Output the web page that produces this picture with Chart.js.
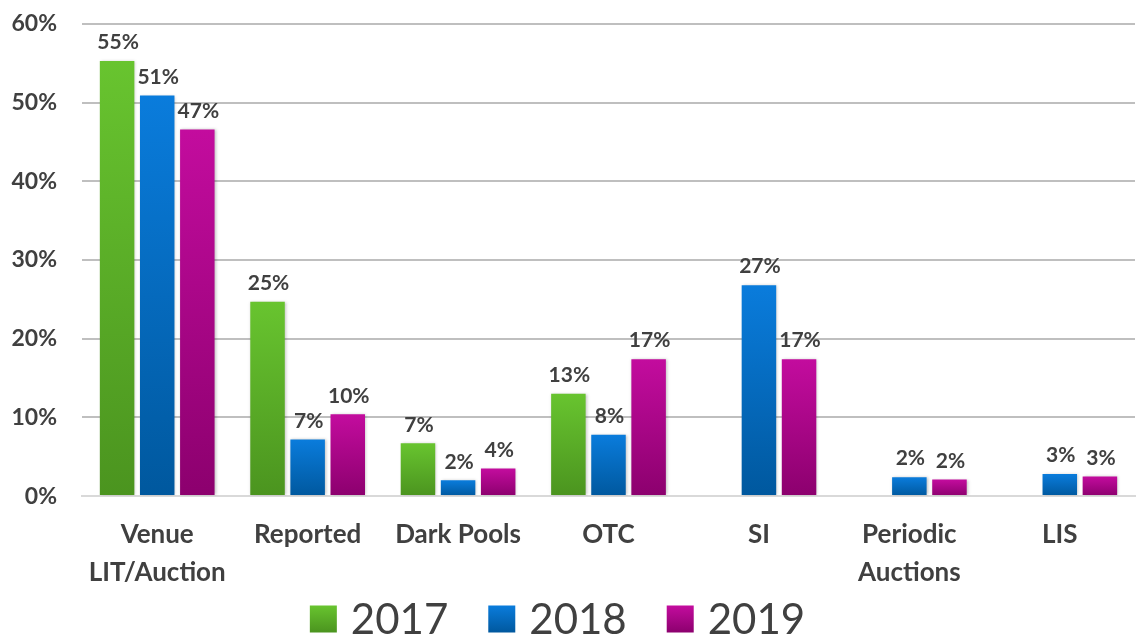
<!DOCTYPE html>
<html><head><meta charset="utf-8">
<script src="https://cdn.jsdelivr.net/npm/chart.js@4.4.0/dist/chart.umd.min.js"></script>
<style>html,body{margin:0;padding:0;background:#fff;}#wrap{width:1137px;height:637px;}</style>
</head><body><div id="wrap"><canvas id="c" width="1137" height="637"></canvas></div>
<script>
const categories = [["Venue","LIT/Auction"], "Reported", "Dark Pools", "OTC", "SI", ["Periodic","Auctions"], "LIS"];
const values2017 = [55.3, 24.7, 6.7, 13.0, null, null, null];
const values2018 = [50.9, 7.2, 2.0, 7.8, 26.8, 2.4, 2.8];
const values2019 = [46.6, 10.4, 3.5, 17.4, 17.4, 2.1, 2.5];
const seriesNames = ["2017", "2018", "2019"];
const yTicks = [0, 10, 20, 30, 40, 50, 60];

const palettes = [["#68c42f", "#4b941f"], ["#0a7cdc", "#00589e"], ["#c30c9e", "#8c006e"]];
const FONT = "Lato, 'Open Sans', sans-serif";
const TXT = "#404040";

function grad(ctx, idx) {
  const chart = ctx.chart;
  const p = palettes[idx];
  if (!chart.chartArea || ctx.parsed == null || ctx.parsed.y == null) return p[0];
  const y = chart.scales.y;
  const top = y.getPixelForValue(ctx.parsed.y);
  const bot = y.getPixelForValue(0);
  if (!(isFinite(top) && isFinite(bot)) || top === bot) return p[0];
  const g = chart.ctx.createLinearGradient(0, top, 0, bot);
  g.addColorStop(0, p[0]);
  g.addColorStop(1, p[1]);
  return g;
}

const labelPlugin = {
  id: "valLabels",
  afterDatasetsDraw(chart) {
    const c = chart.ctx;
    c.save();
    c.font = "bold 21px " + FONT;
    c.fillStyle = TXT;
    c.textAlign = "center";
    c.textBaseline = "bottom";
    chart.data.datasets.forEach((ds, i) => {
      const meta = chart.getDatasetMeta(i);
      meta.data.forEach((el, j) => {
        const v = ds.data[j];
        if (v == null) return;
        c.fillText(Math.round(v) + "%", el.x + 1, el.y - 8);
      });
    });
    c.restore();
  }
};

const shadowPlugin = {
  id: "barShadow",
  beforeDatasetsDraw(chart) {
    chart.ctx.save();
    chart.ctx.shadowColor = "rgba(0,0,0,0.25)";
    chart.ctx.shadowBlur = 3;
    chart.ctx.shadowOffsetX = 1;
    chart.ctx.shadowOffsetY = 0;
  },
  afterDatasetsDraw(chart) { chart.ctx.restore(); }
};

// custom legend drawn below the chart
const legendPlugin = {
  id: "customLegend",
  afterDraw(chart) {
    const c = chart.ctx;
    c.save();
    c.font = "42px " + FONT;
    c.textBaseline = "middle";
    c.textAlign = "left";
    const box = 27, gapText = 14, gapItem = 40;
    const items = chart.data.datasets.map((ds, i) => ({ text: ds.label, w: c.measureText(ds.label).width, i }));
    let total = items.reduce((s, it) => s + box + gapText + it.w, 0) + gapItem * (items.length - 1);
    let x = (chart.width - total) / 2 - 11;
    const cy = 619;
    items.forEach(it => {
      const g = c.createLinearGradient(0, cy - box / 2, 0, cy + box / 2);
      g.addColorStop(0, palettes[it.i][0]);
      g.addColorStop(1, palettes[it.i][1]);
      c.fillStyle = g;
      c.fillRect(x, cy - box / 2, box, box);
      x += box + gapText;
      c.fillStyle = TXT;
      c.fillText(it.text, x, cy + 1);
      x += it.w + gapItem;
    });
    c.restore();
  }
};

const dataSets = [values2017, values2018, values2019].map((vals, i) => ({
  label: seriesNames[i],
  data: vals,
  backgroundColor: (ctx) => grad(ctx, i),
  borderWidth: 0,
  categoryPercentage: 0.8,
  barPercentage: 0.86
}));

new Chart(document.getElementById("c"), {
  type: "bar",
  data: { labels: categories, datasets: dataSets },
  options: {
    responsive: false,
    animation: false,
    devicePixelRatio: 1,
    layout: { padding: { left: 6, right: 2, top: 24, bottom: 25 } },
    plugins: {
      tooltip: { enabled: false },
      legend: { display: false }
    },
    scales: {
      x: {
        grid: { display: false, drawTicks: false },
        border: { display: true, color: "#d9d9d9", width: 2 },
        ticks: {
          color: TXT,
          font: { family: FONT, size: 26, weight: "bold", lineHeight: 1.46 },
          padding: 20,
          maxRotation: 0, autoSkip: false
        }
      },
      y: {
        min: 0, max: 60,
        afterBuildTicks(axis) { axis.ticks = yTicks.map(v => ({ value: v })); },
        afterFit(axis) { axis.width = 76; axis.paddingTop = 0; axis.paddingBottom = 0; },
        grid: { color: (ctx) => ctx.tick && ctx.tick.value === 0 ? "#d9d9d9" : "#bfbfbf", lineWidth: 2, drawTicks: false },
        border: { display: false },
        ticks: {
          color: TXT,
          font: { family: FONT, size: 23, weight: "bold", lineHeight: 0.4 },
          padding: 25,
          callback: (v) => v + "%"
        }
      }
    }
  },
  plugins: [shadowPlugin, labelPlugin, legendPlugin]
});
</script></body></html>
